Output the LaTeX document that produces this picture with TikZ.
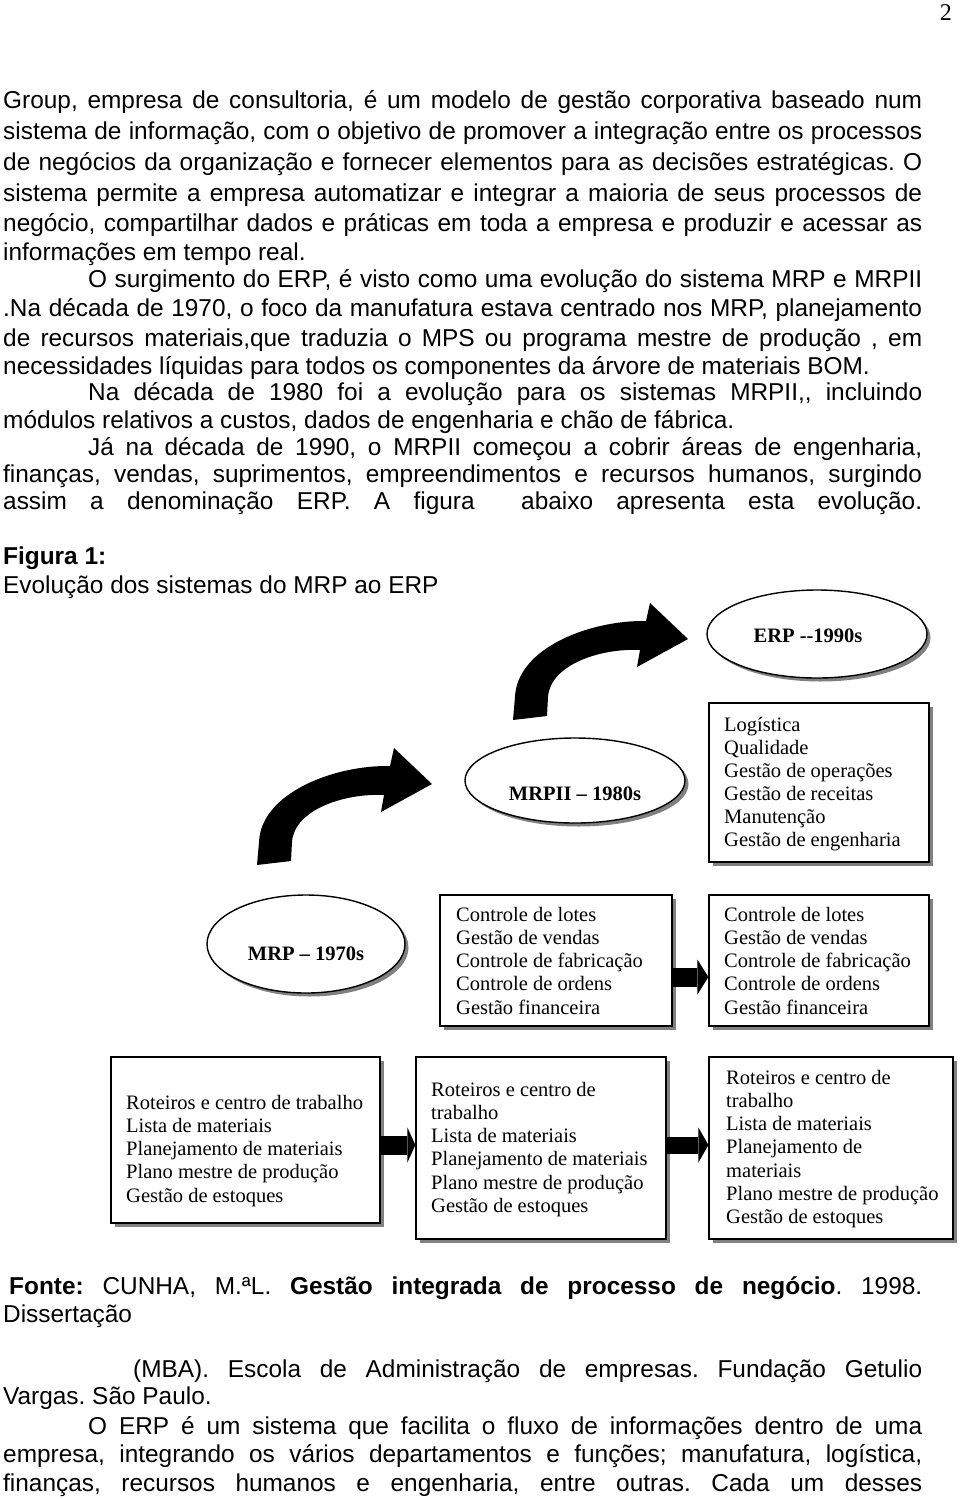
\documentclass[tikz,border=0pt]{standalone}
\usepackage{fontspec}
\setmainfont{Liberation Sans}
\newfontfamily\tnr{Liberation Serif}
\usetikzlibrary{shapes.geometric,shadows,arrows.meta}
\newcommand\JustLine[2]{\makebox[#1pt][s]{#2}}
\tikzset{
 body/.style={font=\fontsize{24.4}{29}\selectfont\frenchspacing, inner sep=0pt, anchor=base west},
 btxt/.style={font=\tnr\fontsize{20.5}{23.3}\selectfont, inner sep=0pt, anchor=base west},
 elab/.style={font=\tnr\bfseries\fontsize{20.5}{23}\selectfont, inner sep=0pt, anchor=base},
 shad/.style={drop shadow={shadow xshift=3.5pt, shadow yshift=-3.5pt, fill=black!50, opacity=1}},
 sbox/.style={rectangle, draw=black, line width=1.2pt, fill=white, inner sep=0pt, shad},
 sell/.style={ellipse, draw=black, line width=1.4pt, fill=white, inner sep=0pt, shad},
 barrow/.style={line width=19pt, -{Triangle[length=11pt,width=35pt,line width=0pt]}},
 curved/.style={fill=black}
}
\begin{document}
\begin{tikzpicture}[x=1pt,y=-1pt]
\useasboundingbox (0,0) rectangle (960,1499);
\fill[white] (0,0) rectangle (960,1499);

% page number
\node[font=\tnr\fontsize{24}{26}\selectfont, inner sep=0pt, anchor=base east] (pg) at (952,20) {2};

% body text
\node[body] (p1) at (3,108.5) {\JustLine{919}{Group, empresa de consultoria, é um modelo de gestão corporativa baseado num}};
\node[body] (p2) at (3,139.5) {\JustLine{919}{sistema de informação, com o objetivo de promover a integração entre os processos}};
\node[body] (p3) at (3,170.5) {\JustLine{919}{de negócios da organização e fornecer elementos para as decisões estratégicas. O}};
\node[body] (p4) at (3,201.5) {\JustLine{919}{sistema permite a empresa automatizar e integrar a maioria de seus processos de}};
\node[body] (p5) at (3,231.5) {\JustLine{919}{negócio, compartilhar dados e práticas em toda a empresa e produzir e acessar as}};
\node[body] (p6) at (3,260.5) {informações em tempo real.};
\node[body] (p7) at (88,287.5) {\JustLine{834}{O surgimento do ERP, é visto como uma evolução do sistema MRP e MRPII}};
\node[body] (p8) at (3,316.5) {\JustLine{919}{.Na década de 1970, o foco da manufatura estava centrado nos MRP, planejamento}};
\node[body] (p9) at (3,346.5) {\JustLine{919}{de recursos materiais,que traduzia o MPS ou programa mestre de produção , em}};
\node[body] (p10) at (3,374.5) {necessidades líquidas para todos os componentes da árvore de materiais BOM.};
\node[body] (p11) at (88,400.5) {\JustLine{834}{Na década de 1980 foi a evolução para os sistemas MRPII,{},{} incluindo}};
\node[body] (p12) at (3,428.5) {módulos relativos a custos, dados de engenharia e chão de fábrica.};
\node[body] (p13) at (88,455.5) {\JustLine{834}{Já na década de 1990, o MRPII começou a cobrir áreas de engenharia,}};
\node[body] (p14) at (3,482.5) {\JustLine{919}{finanças, vendas, suprimentos, empreendimentos e recursos humanos, surgindo}};
\node[body] (p15) at (3,509.5) {\JustLine{919}{assim a denominação ERP. A figura \ abaixo apresenta esta evolução.}};

\node[body] (fig) at (3,564.5) {\textbf{Figura 1:}};
\node[body] (figt) at (3,593.5) {Evolução dos sistemas do MRP ao ERP};

% ellipses
\node[sell, minimum width=220pt, minimum height=88pt] (erp) at (817,634) {};
\node[elab] (erpl) at (808,642) {ERP -{}-1990s};
\node[sell, minimum width=220pt, minimum height=85pt] (mrpii) at (575,780.5) {};
\node[elab] (mrpiil) at (575,800) {MRPII – 1980s};
\node[sell, minimum width=198pt, minimum height=98pt] (mrp) at (306,944) {};
\node[elab] (mrpl) at (306,960) {MRP – 1970s};

% boxes
\node[sbox, minimum width=220pt, minimum height=159pt] (lg) at (819,782.5) {};
\foreach \t [count=\i from 0] in {Logística,Qualidade,Gestão de operações,Gestão de receitas,Manutenção,Gestão de engenharia}
  \node[btxt] (lg-\i) at (724,731+23.1*\i) {\t};

\node[sbox, minimum width=232pt, minimum height=131pt] (c1) at (556,960.5) {};
\node[sbox, minimum width=220pt, minimum height=131pt] (c2) at (819,960.5) {};
\foreach \t [count=\i from 0] in {Controle de lotes,Gestão de vendas,Controle de fabricação,Controle de ordens,Gestão financeira}{
  \node[btxt] (ca-\i) at (456,921+23.3*\i) {\t};
  \node[btxt] (cb-\i) at (724,921+23.3*\i) {\t};
}

\node[sbox, minimum width=269pt, minimum height=166pt] (b1) at (245.5,1140) {};
\node[sbox, minimum width=250pt, minimum height=182pt] (b2) at (541,1148) {};
\node[sbox, minimum width=244pt, minimum height=182pt] (b3) at (831,1148) {};
\foreach \t [count=\i from 0] in {Roteiros e centro de trabalho,Lista de materiais,Planejamento de materiais,Plano mestre de produção,Gestão de estoques}
  \node[btxt] (ba-\i) at (126,1109+23.3*\i) {\t};
\foreach \t [count=\i from 0] in {Roteiros e centro de,trabalho,Lista de materiais,Planejamento de materiais,Plano mestre de produção,Gestão de estoques}
  \node[btxt] (bb-\i) at (431,1096+23.3*\i) {\t};
\foreach \t [count=\i from 0] in {Roteiros e centro de,trabalho,Lista de materiais,Planejamento de,materiais,Plano mestre de produção,Gestão de estoques}
  \node[btxt] (bc-\i) at (726,1084+23.3*\i) {\t};

% straight block arrows
\draw[barrow] ([yshift=-16.5pt]c1.east) -- ([yshift=-16.5pt]c1.east -| c2.west);
\draw[barrow, line width=19pt, -{Triangle[length=8pt,width=35pt,line width=0pt]}] ([yshift=-5pt]b1.east) -- ([yshift=-5pt]b1.east -| b2.west);
\draw[barrow, line width=17pt, -{Triangle[length=10pt,width=35pt,line width=0pt]}] ([yshift=3pt]b2.east) -- ([yshift=3pt]b2.east -| b3.west);

% curved arrows
\fill[curved] (513,720) -- (515,697) .. controls (517,648) and (590,620) .. (646,621) -- (650,603) -- (688,639) -- (637,667) -- (640,650) .. controls (600,648) and (550,665) .. (548,697) -- (547,716) -- cycle;
\begin{scope}[shift={(-256,145)}]
\fill[curved] (513,720) -- (515,697) .. controls (517,648) and (590,620) .. (646,621) -- (650,603) -- (688,639) -- (637,667) -- (640,650) .. controls (600,648) and (550,665) .. (548,697) -- (547,716) -- cycle;
\end{scope}

% bottom text
\node[body] (f1) at (9,1294.5) {\JustLine{913}{\textbf{Fonte:} CUNHA, M.ªL. \textbf{Gestão integrada de processo de negócio}. 1998.}};
\node[body] (f2) at (3,1322.5) {Dissertação};
\node[body] (f3) at (133,1377.5) {\JustLine{789}{(MBA). Escola de Administração de empresas. Fundação Getulio}};
\node[body] (f4) at (3,1404.5) {Vargas. São Paulo.};
\node[body] (f5) at (88,1434.5) {\JustLine{834}{O ERP é um sistema que facilita o fluxo de informações dentro de uma}};
\node[body] (f6) at (3,1462.5) {\JustLine{919}{empresa, integrando os vários departamentos e funções; manufatura, logística,}};
\node[body] (f7) at (3,1491.5) {\JustLine{919}{finanças, recursos humanos e engenharia, entre outras. Cada um desses}};
\end{tikzpicture}
\end{document}
